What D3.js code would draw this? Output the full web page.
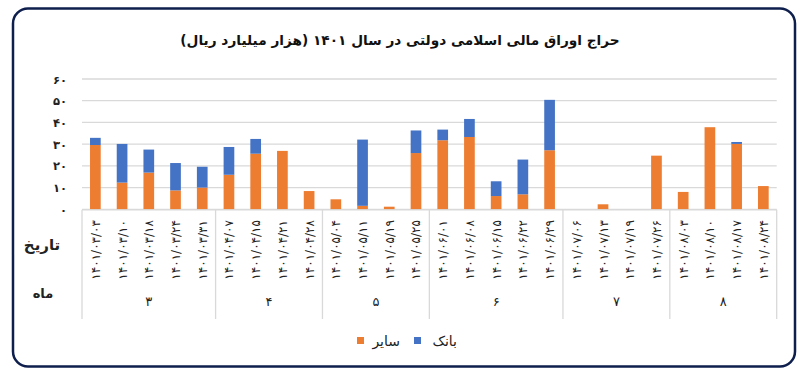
<!DOCTYPE html>
<html><head><meta charset="utf-8">
<script src="https://cdn.jsdelivr.net/npm/d3@7"></script>
<style>body{margin:0;background:#fff}svg{display:block}text{font-family:"DejaVu Sans",sans-serif}</style>
</head><body><svg id="c" width="800" height="385"></svg>
<script>
const dates = ["۱۴۰۱/۰۳/۰۳","۱۴۰۱/۰۳/۱۰","۱۴۰۱/۰۳/۱۸","۱۴۰۱/۰۳/۲۴","۱۴۰۱/۰۳/۳۱",
"۱۴۰۱/۰۴/۰۷","۱۴۰۱/۰۴/۱۵","۱۴۰۱/۰۴/۲۱","۱۴۰۱/۰۴/۲۸",
"۱۴۰۱/۰۵/۰۴","۱۴۰۱/۰۵/۱۱","۱۴۰۱/۰۵/۱۹","۱۴۰۱/۰۵/۲۵",
"۱۴۰۱/۰۶/۰۱","۱۴۰۱/۰۶/۰۸","۱۴۰۱/۰۶/۱۵","۱۴۰۱/۰۶/۲۲","۱۴۰۱/۰۶/۲۹",
"۱۴۰۱/۰۷/۰۶","۱۴۰۱/۰۷/۱۳","۱۴۰۱/۰۷/۱۹","۱۴۰۱/۰۷/۲۶",
"۱۴۰۱/۰۸/۰۳","۱۴۰۱/۰۸/۱۰","۱۴۰۱/۰۸/۱۷","۱۴۰۱/۰۸/۲۴"];
const months = ["۳","۴","۵","۶","۷","۸"];
const monthCounts = [5,4,4,5,4,4];
const other = [29.6,12.3,16.9,8.7,10.0, 15.9,25.6,26.9,8.4, 4.6,1.6,1.2,25.9, 31.8,33.3,6.1,6.9,27.2, 0,2.3,0,24.7, 8.0,37.8,30.1,10.7];
const bank  = [3.3,17.8,10.6,12.6,9.6, 12.8,6.8,0,0, 0,30.5,0,10.4, 4.9,8.3,6.8,16.0,23.2, 0,0,0,0, 0,0,0.9,0];
const yTicks = [0,10,20,30,40,50,60];
const yTickLabels = ["۰","۱۰","۲۰","۳۰","۴۰","۵۰","۶۰"];
const seriesNames = ["سایر","بانک"];
const title = "حراج اوراق مالی اسلامی دولتی در سال ۱۴۰۱ (هزار میلیارد ریال)";

const svg = d3.select("#c");
const ORANGE = "#ED7D31", BLUE = "#4472C4", GRID = "#d9d9d9";

svg.append("rect").attr("x",13).attr("y",8.5).attr("width",782).attr("height",358)
  .attr("rx",15).attr("fill","#fff").attr("stroke","#0e1f4d").attr("stroke-width",2.5);

svg.append("text").attr("x",400).attr("y",45).attr("text-anchor","middle")
  .attr("font-size",13.7).attr("font-weight","bold").attr("fill","#111").attr("direction","rtl").text(title);

const x = d3.scaleBand().domain(dates).range([82,776.7]).padding(0);
const y = d3.scaleLinear().domain([0,60]).range([209.3,79]);

// grid
svg.append("g").selectAll("line").data(yTicks).join("line")
  .attr("x1",82).attr("x2",776.7).attr("y1",d=>y(d)).attr("y2",d=>y(d))
  .attr("stroke",GRID).attr("stroke-width",1.3);

svg.append("g").selectAll("text").data(yTicks).join("text")
  .attr("x",67).attr("y",d=>y(d)+4.5).attr("text-anchor","end")
  .attr("font-size",11.5).attr("font-weight","bold").attr("fill","#222")
  .text((d,i)=>yTickLabels[i]);

const bw = x.bandwidth()*0.4;
const stack = d3.stack().keys(["other","bank"])(dates.map((d,i)=>({date:d, other:other[i], bank:bank[i]})));
const colors = {other:ORANGE, bank:BLUE};
svg.append("g").selectAll("g").data(stack).join("g").attr("fill",s=>colors[s.key])
  .selectAll("rect").data(s=>s.filter(p=>p[1]-p[0]>0)).join("rect")
  .attr("x",p=>x(p.data.date)+(x.bandwidth()-bw)/2).attr("width",bw)
  .attr("y",p=>y(p[1])).attr("height",p=>y(p[0])-y(p[1]));

// category axis
svg.append("line").attr("x1",82).attr("x2",776.7).attr("y1",209.8).attr("y2",209.8).attr("stroke",GRID).attr("stroke-width",1.3);
let cum=0; const bounds=[0];
monthCounts.forEach(c=>{cum+=c; bounds.push(cum);});
svg.append("g").selectAll("line").data(bounds).join("line")
  .attr("x1",i=>i<dates.length?x(dates[i]):x.range()[1]).attr("x2",i=>i<dates.length?x(dates[i]):x.range()[1])
  .attr("y1",209.8).attr("y2",319).attr("stroke",GRID).attr("stroke-width",1.3);

svg.append("g").selectAll("text").data(dates).join("text")
  .attr("transform",d=>`translate(${x(d)+x.bandwidth()/2+4.5},220) rotate(-90)`)
  .attr("text-anchor","end").attr("font-size",12).attr("fill","#222")
  .text(d=>d);

svg.append("g").selectAll("text").data(months).join("text")
  .attr("x",(m,i)=>{const a=x(dates[bounds[i]]); const b=bounds[i+1]<dates.length?x(dates[bounds[i+1]]):x.range()[1]; return (a+b)/2;})
  .attr("y",306).attr("text-anchor","middle").attr("font-size",13).attr("fill","#222").text(d=>d);

svg.append("text").attr("x",42).attr("y",250).attr("text-anchor","middle").attr("font-size",15).attr("font-weight","bold").attr("fill","#222").text("تاریخ");
svg.append("text").attr("x",43).attr("y",298).attr("text-anchor","middle").attr("font-size",13).attr("font-weight","bold").attr("fill","#222").text("ماه");

// legend
const leg = [{name:seriesNames[0],color:ORANGE,sx:357,tx:400},{name:seriesNames[1],color:BLUE,sx:414,tx:457}];
const lg = svg.append("g");
lg.selectAll("rect").data(leg).join("rect").attr("x",d=>d.sx).attr("y",337).attr("width",7).attr("height",7).attr("fill",d=>d.color);
lg.selectAll("text").data(leg).join("text").attr("x",d=>d.tx).attr("y",346).attr("text-anchor","end")
  .attr("font-size",14).attr("fill","#222").text(d=>d.name);
</script></body></html>
